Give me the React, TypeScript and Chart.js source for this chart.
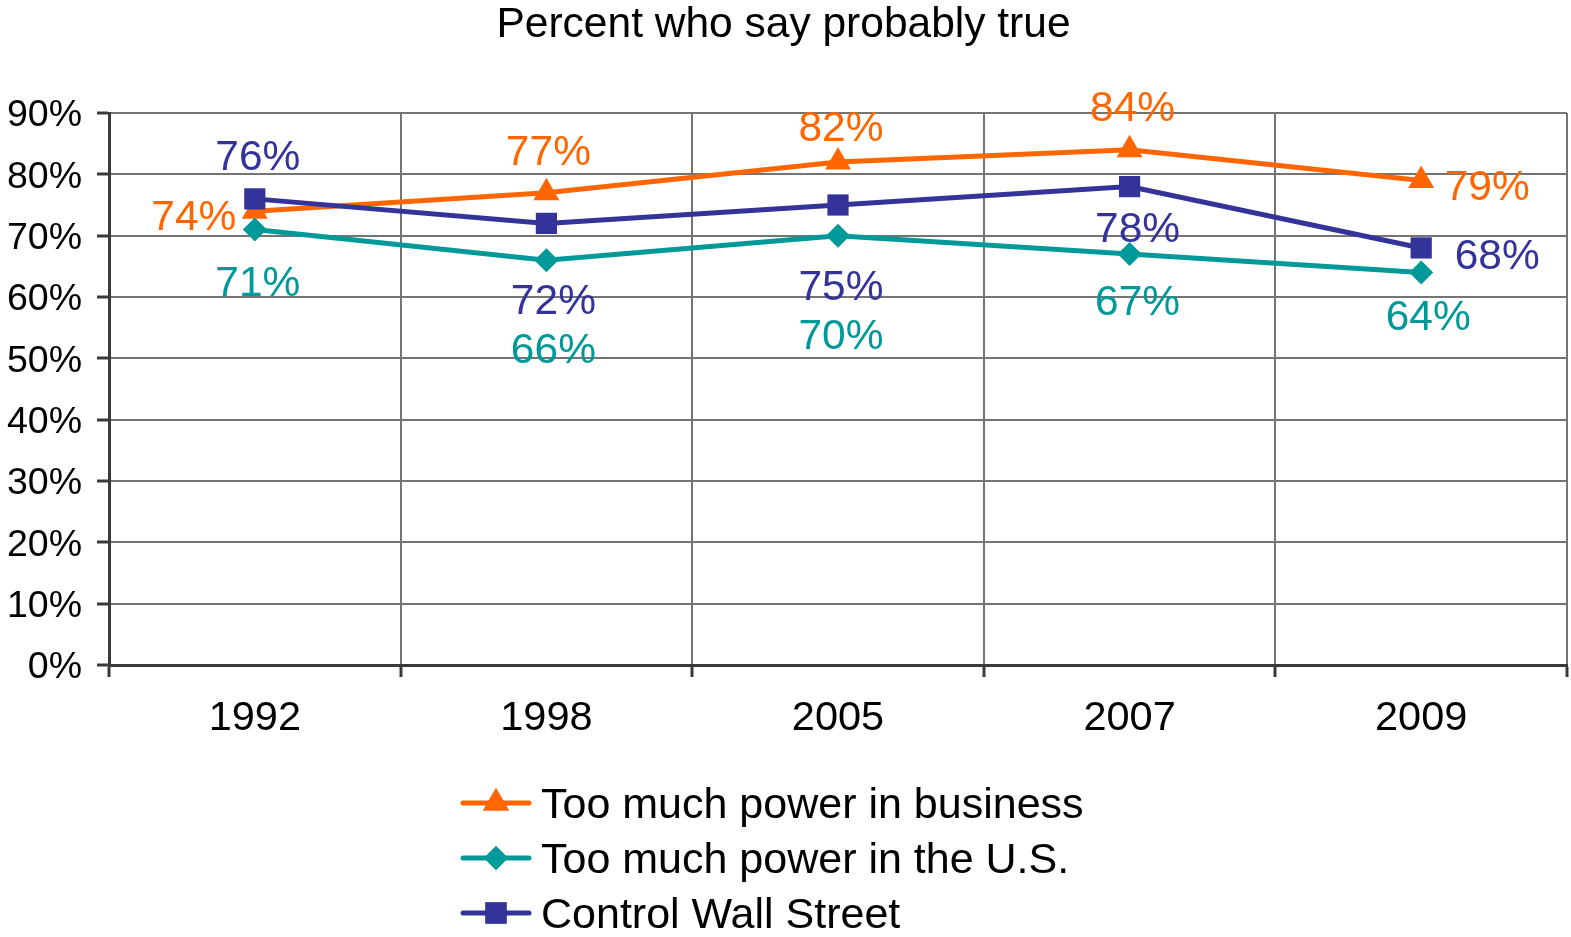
import React, { useEffect, useRef } from 'react';
import { Chart, registerables } from 'chart.js';
import { drawPoint } from 'chart.js/helpers';

Chart.register(...registerables);

const TITLE = 'Percent who say probably true';
const YEARS = ['1992', '1998', '2005', '2007', '2009'];
const SERIES_NAMES = ['Too much power in business', 'Too much power in the U.S.', 'Control Wall Street'];
const BUSINESS = [74, 77, 82, 84, 79];
const US_POWER = [71, 66, 70, 67, 64];
const WALL_STREET = [76, 72, 75, 78, 68];
const Y_MIN = 0;
const Y_MAX = 90;
const Y_STEP = 10;

// styling / placement (not data)
const COLORS = ['#FF6600', '#009999', '#333399'];
const POINT_STYLES = ['triangle', 'rectRot', 'rect'];
const POINT_RADII = [15, 12, 15];
const DRAW_ORDER = [2, 1, 0];
// label offsets (dx, dy) from each point, per series
const LABEL_OFFSETS: number[][][] = [
  [[-61, 4], [2, -43], [3, -36], [3, -44], [66, 4]],
  [[3, 51], [7, 88], [3, 98], [8, 46], [7, 42]],
  [[3, -44], [7, 75], [3, 80], [8, 40], [76, 6]],
];

const FONT = '"Liberation Sans", Arial, Helvetica, sans-serif';
const LABEL_SIZE = 42.5;
const LEGEND_SIZE = 43;

const labelPlugin = {
  id: 'pointLabels',
  afterDatasetsDraw(chart: any) {
    const ctx = chart.ctx;
    ctx.save();
    ctx.font = `${LABEL_SIZE}px ${FONT}`;
    ctx.textAlign = 'center';
    ctx.textBaseline = 'alphabetic';
    chart.data.datasets.forEach((ds: any, di: number) => {
      const meta = chart.getDatasetMeta(di);
      meta.data.forEach((pt: any, i: number) => {
        const [dx, dy] = LABEL_OFFSETS[di][i];
        ctx.fillStyle = COLORS[di];
        ctx.fillText(`${ds.data[i]}%`, pt.x + dx, pt.y + dy + LABEL_SIZE * 0.358);
      });
    });
    ctx.restore();
  },
};

const legendPlugin = {
  id: 'stackedLegend',
  afterDraw(chart: any) {
    const ctx = chart.ctx;
    ctx.save();
    const rows = [803, 858, 913];
    chart.data.datasets.forEach((ds: any, di: number) => {
      const y = rows[di];
      ctx.strokeStyle = COLORS[di];
      ctx.lineWidth = 5;
      ctx.lineCap = 'round';
      ctx.beginPath();
      ctx.moveTo(463, y);
      ctx.lineTo(529, y);
      ctx.stroke();
      ctx.fillStyle = COLORS[di];
      drawPoint(ctx, { pointStyle: POINT_STYLES[di], radius: POINT_RADII[di], rotation: 0, borderWidth: 0 } as any, 496, y);
      ctx.fill();
      ctx.fillStyle = '#000000';
      ctx.font = `${LEGEND_SIZE}px ${FONT}`;
      ctx.textAlign = 'left';
      ctx.textBaseline = 'alphabetic';
      ctx.fillText(ds.label, 541, y + LEGEND_SIZE * 0.358);
    });
    ctx.restore();
  },
};

export default function App() {
  const ref = useRef<HTMLCanvasElement | null>(null);
  useEffect(() => {
    document.body.style.margin = '0';
    if (!ref.current) return;
    const seriesData = [BUSINESS, US_POWER, WALL_STREET];
    const chart = new Chart(ref.current, {
      type: 'line',
      data: {
        labels: YEARS,
        datasets: seriesData.map((d, i) => ({
          label: SERIES_NAMES[i],
          data: d,
          borderColor: COLORS[i],
          backgroundColor: COLORS[i],
          pointBackgroundColor: COLORS[i],
          pointBorderColor: COLORS[i],
          pointBorderWidth: 0,
          pointStyle: POINT_STYLES[i] as any,
          pointRadius: POINT_RADII[i],
          borderWidth: 5,
          tension: 0,
          fill: false,
          order: DRAW_ORDER[i],
        })),
      },
      options: {
        responsive: false,
        animation: false,
        devicePixelRatio: 1,
        layout: { autoPadding: false, padding: { left: 0, right: 4, top: 0, bottom: 0 } },
        plugins: {
          legend: { display: false },
          tooltip: { enabled: false },
          title: {
            display: true,
            text: TITLE,
            color: '#000000',
            font: { family: FONT, size: 42.5, weight: 'normal', lineHeight: 1.0 },
            padding: { top: 4, bottom: 66.5 },
          },
        },
        scales: {
          x: {
            type: 'category',
            offset: true,
            grid: {
              offset: true,
              color: '#747474',
              lineWidth: 2,
              tickColor: '#3a3a3a',
              tickWidth: 3,
              tickLength: 12,
              drawOnChartArea: true,
            },
            border: { display: true, color: '#3a3a3a', width: 3 },
            ticks: {
              color: '#000000',
              font: { family: FONT, size: 41.5 },
              padding: 17,
              maxRotation: 0,
              autoSkip: false,
            },
            afterFit: (scale: any) => {
              scale.height = 272;
              scale.paddingLeft = 0;
              scale.paddingRight = 0;
            },
          },
          y: {
            min: Y_MIN,
            max: Y_MAX,
            grid: {
              color: '#747474',
              lineWidth: 2,
              tickColor: '#3a3a3a',
              tickWidth: 3,
              tickLength: 12,
            },
            border: { display: true, color: '#3a3a3a', width: 3 },
            ticks: {
              stepSize: Y_STEP,
              color: '#000000',
              font: { family: FONT, size: 37.5 },
              padding: 15,
              labelOffset: 3,
              callback: (v: any) => `${v}%`,
            },
            afterFit: (scale: any) => {
              scale.width = 109;
            },
          },
        },
      },
      plugins: [labelPlugin, legendPlugin],
    });
    return () => chart.destroy();
  }, []);
  return (
    <div style={{ width: 1571, height: 937, background: '#ffffff' }}>
      <canvas ref={ref} width={1571} height={937} style={{ display: 'block' }} />
    </div>
  );
}
